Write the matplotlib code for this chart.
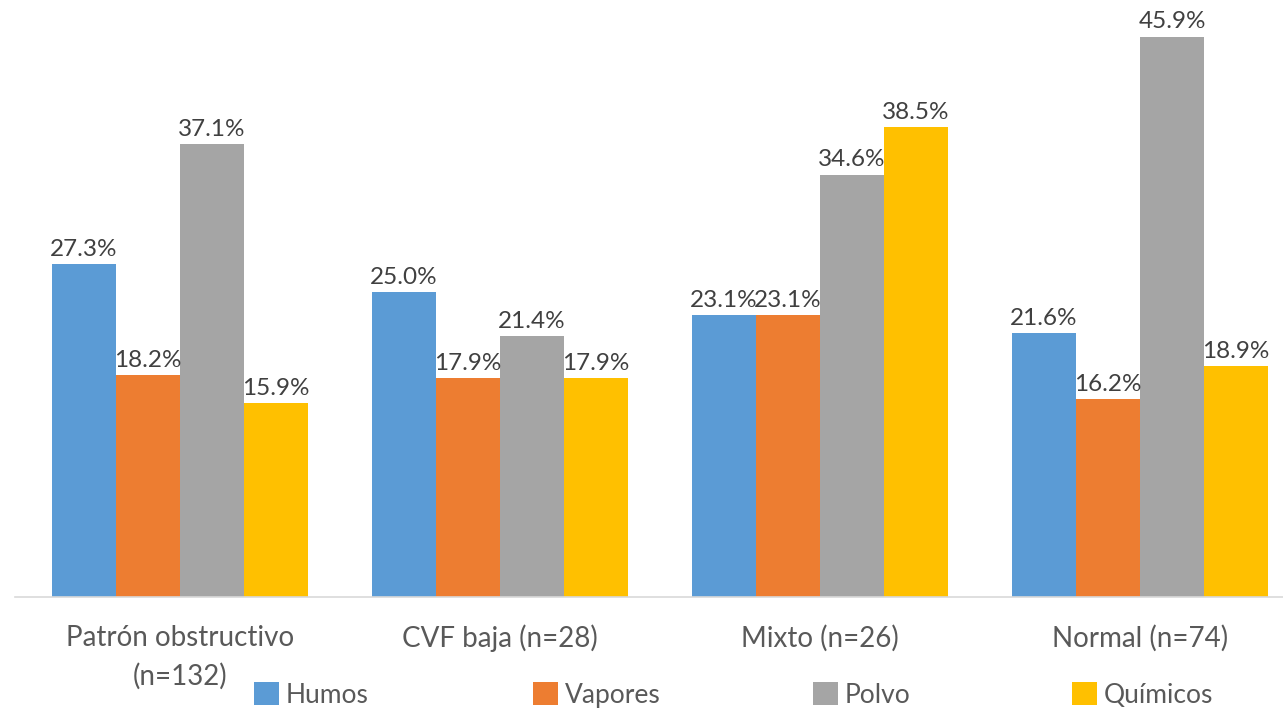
import numpy as np
import matplotlib
matplotlib.use("Agg")
import matplotlib.pyplot as plt

categories = ["Patrón obstructivo\n(n=132)", "CVF baja (n=28)", "Mixto (n=26)", "Normal (n=74)"]
series_names = ["Humos", "Vapores", "Polvo", "Químicos"]
humos = [27.3, 25.0, 23.1, 21.6]
vapores = [18.2, 17.9, 23.1, 16.2]
polvo = [37.1, 21.4, 34.6, 45.9]
quimicos = [15.9, 17.9, 38.5, 18.9]
colors = ["#5B9BD5", "#ED7D31", "#A5A5A5", "#FFC000"]
txt_color = "#595959"

plt.rcParams['font.family'] = ['Lato', 'DejaVu Sans']

W, H = 1283, 714
fig = plt.figure(figsize=(W / 100, H / 100), dpi=100)
ax = fig.add_axes([15 / W, 117 / H, 1268 / W, 597 / H])

x = np.arange(len(categories))
w = 0.2
all_series = [humos, vapores, polvo, quimicos]
handles = []
for i, vals in enumerate(all_series):
    pos = x + (i - 1.5) * w
    b = ax.bar(pos, vals, w, color=colors[i], label=series_names[i])
    handles.append(b)
    for px, v in zip(pos, vals):
        ax.annotate("%.1f%%" % v, (px, v), xytext=(0, 3), textcoords="offset points",
                    ha="center", va="bottom", fontsize=17.5, color="#404040")

ax.set_xlim(-0.516, 3.447)
ax.set_ylim(0, 48.9)
ax.set_yticks([])
ax.set_xticks(x)
ax.set_xticklabels(categories, fontsize=20, color=txt_color, linespacing=1.55)
ax.tick_params(axis="x", length=0, pad=20)
for s in ["top", "right", "left"]:
    ax.spines[s].set_visible(False)
ax.spines["bottom"].set_color("#D9D9D9")
ax.spines["bottom"].set_linewidth(1.2)

# one legend entry per slot, like the original layout
legend_x = [254, 533, 813, 1072]
for h, name, lx in zip(handles, series_names, legend_x):
    fig.legend([h], [name], loc="center left", bbox_to_anchor=(lx / W, 19 / H),
               frameon=False, fontsize=19, handlelength=0.95, handleheight=0.95,
               handletextpad=0.25, borderpad=0, borderaxespad=0, labelcolor=txt_color)

fig.savefig("out.png", dpi=100)
